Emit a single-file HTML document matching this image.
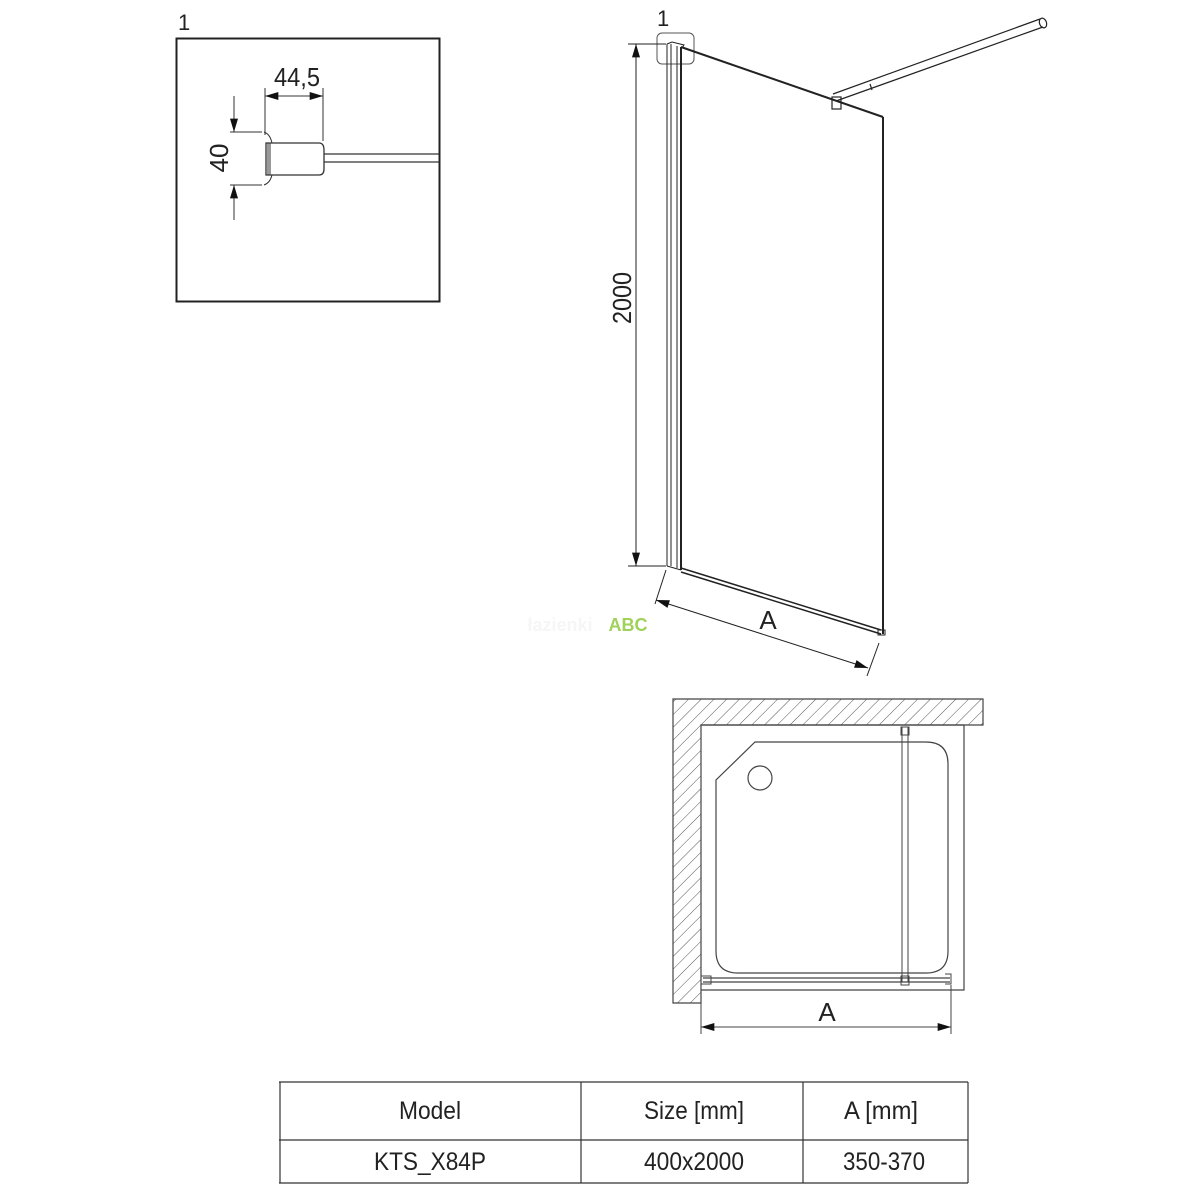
<!DOCTYPE html>
<html><head><meta charset="utf-8"><style>
html,body{margin:0;padding:0;background:#fff}
svg{display:block}
text{font-family:"Liberation Sans",sans-serif;fill:#222}
</style></head><body>
<svg width="1200" height="1200" viewBox="0 0 1200 1200" xmlns="http://www.w3.org/2000/svg">
<defs>
<marker id="ar" viewBox="0 0 10 6" refX="10" refY="3" markerWidth="17" markerHeight="8" markerUnits="userSpaceOnUse" orient="auto-start-reverse"><path d="M0,0 L10,3 L0,6 z" fill="#111"/></marker>
<pattern id="hatch" width="9" height="9" patternUnits="userSpaceOnUse" patternTransform="rotate(45)"><line x1="0" y1="0" x2="0" y2="9" stroke="#555" stroke-width="1"/></pattern>
</defs>

<!-- Detail box -->
<text x="178" y="30" font-size="22">1</text>
<rect x="176.5" y="38.5" width="263" height="263" fill="none" stroke="#222" stroke-width="2"/>
<g stroke="#333" fill="none" stroke-width="1">
<line x1="265" y1="88" x2="265" y2="135"/>
<line x1="323" y1="88" x2="323" y2="141"/>
<line x1="265" y1="96" x2="323" y2="96" marker-start="url(#ar)" marker-end="url(#ar)"/>
<line x1="230" y1="132" x2="262" y2="132"/>
<line x1="230" y1="185" x2="262" y2="185"/>
<line x1="234" y1="96" x2="234" y2="132" marker-end="url(#ar)"/>
<line x1="234" y1="220" x2="234" y2="185" marker-end="url(#ar)"/>
<path d="M266,143 L319,143 Q324,143 324,150 L324,169 Q324,175 319,175 L266,175 Z" stroke-width="1.3"/>
<line x1="268" y1="143" x2="268" y2="175"/>
<line x1="270" y1="143" x2="270" y2="175"/>
<path d="M264,132 Q270,134 272,143"/>
<path d="M264,185 Q270,183 272,175"/>
<line x1="324" y1="154" x2="439" y2="154" stroke-width="1.3"/>
<line x1="324" y1="162" x2="439" y2="162" stroke-width="1.3"/>
</g>
<text x="274" y="86" font-size="26" textLength="46" lengthAdjust="spacingAndGlyphs">44,5</text>
<text transform="translate(228,158) rotate(-90)" font-size="26" text-anchor="middle">40</text>

<!-- Panel elevation -->
<text x="657" y="26" font-size="22">1</text>
<rect x="657" y="33" width="37" height="31" rx="5" fill="none" stroke="#555" stroke-width="1"/>
<g stroke="#222" fill="none">
<line x1="628" y1="44" x2="666" y2="44" stroke-width="1"/>
<line x1="628" y1="566" x2="666" y2="566" stroke-width="1"/>
<line x1="636" y1="44" x2="636" y2="566" stroke-width="1" marker-start="url(#ar)" marker-end="url(#ar)"/>
<line x1="667" y1="44" x2="667" y2="566" stroke-width="1"/>
<line x1="671" y1="44" x2="671" y2="566" stroke-width="1"/>
<line x1="677" y1="46" x2="677" y2="568" stroke-width="1"/>
<line x1="681" y1="47" x2="681" y2="570" stroke-width="2"/>
<path d="M667,44 L672,42 L684,45 L682,48" stroke-width="1"/>
<line x1="681" y1="47" x2="883" y2="117" stroke-width="2"/>
<line x1="883" y1="117" x2="883" y2="634" stroke-width="2"/>
<line x1="667" y1="566" x2="681" y2="570"/>
<line x1="681" y1="568" x2="881" y2="630" stroke-width="1.5"/>
<line x1="681" y1="572" x2="881" y2="634" stroke-width="1.5"/>
<rect x="878" y="630" width="7" height="5" stroke-width="1"/>
<line x1="833" y1="94" x2="1040" y2="19" stroke-width="1.2"/>
<line x1="836" y1="101" x2="1043" y2="27" stroke-width="1.2"/>
<ellipse cx="1043" cy="23" rx="3.5" ry="5" stroke-width="1.2" transform="rotate(-20 1043 23)"/>
<line x1="870" y1="84" x2="872" y2="90" stroke-width="1.2"/>
<rect x="832" y="97" width="9" height="12" stroke-width="1.2"/>
<line x1="666" y1="570" x2="655" y2="604" stroke-width="1"/>
<line x1="879" y1="643" x2="867" y2="676" stroke-width="1"/>
<line x1="656" y1="600" x2="868" y2="668" stroke-width="1" marker-start="url(#ar)" marker-end="url(#ar)"/>
</g>
<text transform="translate(631,298) rotate(-90)" font-size="26" text-anchor="middle" textLength="52" lengthAdjust="spacingAndGlyphs">2000</text>
<text x="768" y="629" font-size="26" text-anchor="middle">A</text>
<text x="560" y="631" font-size="18" font-weight="bold" style="fill:#f6f6f6" text-anchor="middle">łazienki</text>
<text x="628" y="631" font-size="18" font-weight="bold" style="fill:#9fd15b" text-anchor="middle">ABC</text>

<!-- Plan view -->
<path d="M673,699 L983,699 L983,725 L701,725 L701,1003 L673,1003 Z" fill="url(#hatch)" stroke="#444" stroke-width="1.2"/>
<g stroke="#444" fill="none">
<path d="M701,725 L964,725 L964,990 L701,990" stroke-width="1.2"/>
<path d="M755,742 L926,742 Q948,742 948,764 L948,951 Q948,973 926,973 L738,973 Q716,973 716,951 L716,780 Z" stroke-width="1.2"/>
<circle cx="760" cy="778" r="12" stroke-width="1.2"/>
<rect x="902" y="727" width="6" height="255" stroke-width="1"/>
<rect x="901" y="727" width="8" height="8" stroke-width="1"/>
<line x1="703" y1="978" x2="950" y2="978" stroke-width="1.2"/>
<line x1="703" y1="982" x2="950" y2="982" stroke-width="1.2"/>
<rect x="701" y="976" width="10" height="8" stroke-width="1"/>
<rect x="901" y="976" width="8" height="9" stroke-width="1"/>
<path d="M945,974 L951,974 L951,984 L945,984" stroke-width="1"/>
<line x1="701" y1="990" x2="701" y2="1034" stroke-width="1"/>
<line x1="951" y1="985" x2="951" y2="1034" stroke-width="1"/>
<line x1="701" y1="1027" x2="951" y2="1027" stroke-width="1" marker-start="url(#ar)" marker-end="url(#ar)"/>
</g>
<text x="827" y="1021" font-size="26" text-anchor="middle">A</text>

<!-- Table -->
<g stroke="#333" stroke-width="1.2">
<line x1="279" y1="1082" x2="968" y2="1082"/>
<line x1="279" y1="1140" x2="968" y2="1140"/>
<line x1="279" y1="1183" x2="968" y2="1183"/>
<line x1="280" y1="1082" x2="280" y2="1183"/>
<line x1="581" y1="1082" x2="581" y2="1183"/>
<line x1="803" y1="1082" x2="803" y2="1183"/>
<line x1="968" y1="1082" x2="968" y2="1183"/>
</g>
<g font-size="25" text-anchor="middle">
<text x="430" y="1119" textLength="62" lengthAdjust="spacingAndGlyphs">Model</text>
<text x="694" y="1119" textLength="100" lengthAdjust="spacingAndGlyphs">Size [mm]</text>
<text x="881" y="1119" textLength="74" lengthAdjust="spacingAndGlyphs">A [mm]</text>
<text x="430" y="1170" textLength="112" lengthAdjust="spacingAndGlyphs">KTS_X84P</text>
<text x="694" y="1170" textLength="100" lengthAdjust="spacingAndGlyphs">400x2000</text>
<text x="884" y="1170" textLength="82" lengthAdjust="spacingAndGlyphs">350-370</text>
</g>
</svg>
</body></html>
